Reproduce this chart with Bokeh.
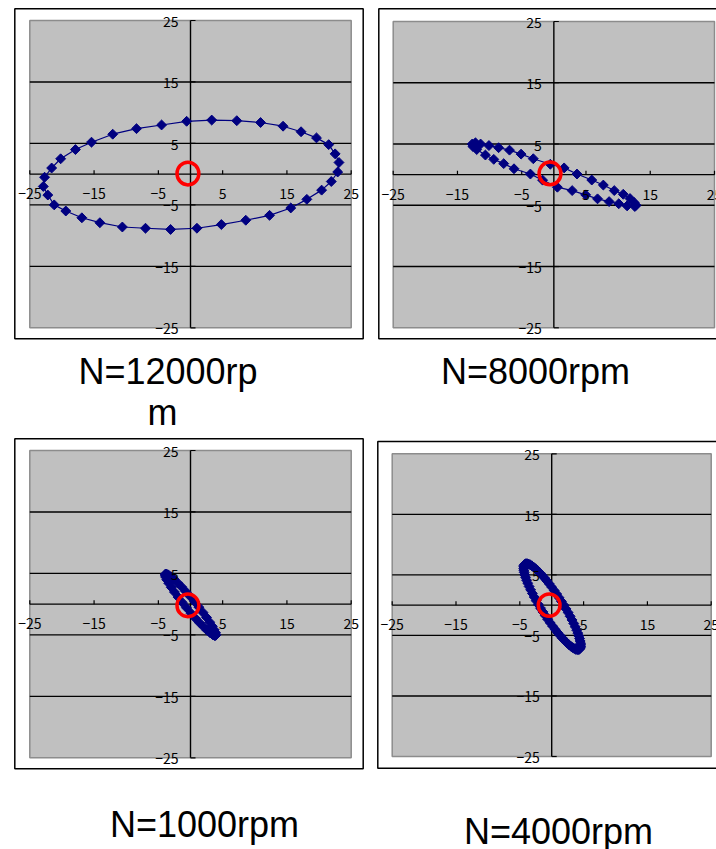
import numpy as np
from bokeh.plotting import figure
from bokeh.layouts import column, row
from bokeh.models import Range1d
from bokeh.core.properties import value
from bokeh.embed import file_html
from bokeh.resources import INLINE

# ---------------- data ----------------
tick_values = [-25, -15, -5, 5, 15, 25]
tick_labels = ["−25", "−15", "−5", "5", "15", "25"]
grid_values = [-15, -5, 5, 15]

# N = 12000 rpm
x_12000 = [-0.6, 3.3, 7.2, 10.9, 14.4, 17.2, 19.6, 21.5, 22.5, 23.1, 22.9, 21.9,
           20.4, 18.1, 15.6, 12.3, 8.6, 4.8, 1.0, -3.1, -7.0, -10.6, -14.1, -16.9,
           -19.4, -21.2, -22.2, -22.9, -22.7, -21.6, -20.2, -17.9, -15.4, -12.1, -8.4, -4.5]
y_12000 = [8.6, 8.8, 8.7, 8.4, 7.8, 6.9, 5.9, 4.8, 3.3, 1.9, 0.35, -1.2,
           -2.6, -4.1, -5.5, -6.7, -7.5, -8.2, -8.8, -9.0, -8.8, -8.6, -7.9, -7.1,
           -6.0, -5.0, -3.4, -2.0, -0.5, 1.0, 2.5, 4.0, 5.2, 6.5, 7.4, 8.0]

# N = 8000 rpm
x_8000 = [-12.7, -12.2, -11.4, -10.1, -8.6, -6.9, -5.1, -3.2, -0.55, 1.6, 3.6, 5.9,
          7.7, 9.4, 10.8, 11.85, 12.5, 12.8,
          12.6, 11.4, 10.1, 8.6, 6.8, 4.95, 2.85, 0.55, -1.75, -3.65, -6.2, -7.8,
          -9.35, -10.65, -12.0, -12.6]
y_8000 = [5.0, 5.2, 5.0, 4.75, 4.4, 4.0, 3.35, 2.6, 1.7, 1.1, 0.1, -0.88,
          -1.7, -2.6, -3.2, -3.9, -4.55, -5.0,
          -5.2, -5.1, -4.75, -4.4, -3.95, -3.3, -2.6, -2.05, -0.9, 0.1, 0.96, 1.8,
          2.5, 3.2, 4.1, 4.6]

# N = 1000 rpm
x_1000 = [3.90, 3.95, 3.88, 3.69, 3.39, 2.99, 2.50, 1.93, 1.30, 0.63, -0.06, -0.74,
          -1.40, -2.03, -2.58, -3.06, -3.45, -3.73, -3.90, -3.95, -3.88, -3.69, -3.39, -2.99,
          -2.50, -1.93, -1.30, -0.63, 0.06, 0.74, 1.40, 2.03, 2.58, 3.06, 3.45, 3.73]
y_1000 = [-5.10, -4.94, -4.63, -4.18, -3.61, -2.94, -2.17, -1.35, -0.49, 0.39, 1.26, 2.07,
          2.83, 3.49, 4.05, 4.48, 4.77, 4.91, 4.90, 4.74, 4.43, 3.98, 3.41, 2.74,
          1.97, 1.15, 0.29, -0.59, -1.46, -2.27, -3.03, -3.69, -4.25, -4.68, -4.97, -5.11]

# N = 4000 rpm
x_4000 = [4.30, 4.41, 4.49, 4.53, 4.54, 4.52, 4.46, 4.37, 4.25, 4.09, 3.91, 3.69,
          3.45, 3.18, 2.89, 2.58, 2.25, 1.90, 1.53, 1.16, 0.78, 0.39, 0.00, -0.39,
          -0.77, -1.15, -1.52, -1.88, -2.22, -2.54, -2.85, -3.13, -3.39, -3.62, -3.83, -4.00,
          -4.15, -4.26, -4.34, -4.38, -4.39, -4.37, -4.31, -4.22, -4.10, -3.94, -3.76, -3.54,
          -3.30, -3.03, -2.74, -2.43, -2.10, -1.75, -1.38, -1.01, -0.63, -0.24, 0.15, 0.54,
          0.92, 1.30, 1.67, 2.03, 2.37, 2.69, 3.00, 3.28, 3.54, 3.77, 3.98, 4.15]
y_4000 = [-7.30, -7.20, -7.04, -6.83, -6.58, -6.27, -5.92, -5.52, -5.09, -4.62, -4.12, -3.58,
          -3.02, -2.44, -1.84, -1.23, -0.62, 0.01, 0.62, 1.23, 1.84, 2.42, 2.98, 3.52,
          4.03, 4.51, 4.95, 5.35, 5.71, 6.03, 6.29, 6.51, 6.68, 6.79, 6.85, 6.85,
          6.80, 6.70, 6.54, 6.33, 6.08, 5.77, 5.42, 5.02, 4.59, 4.12, 3.62, 3.08,
          2.52, 1.94, 1.34, 0.73, 0.12, -0.51, -1.12, -1.73, -2.34, -2.92, -3.48, -4.02,
          -4.53, -5.01, -5.45, -5.85, -6.21, -6.53, -6.79, -7.01, -7.18, -7.29, -7.35, -7.35]

# red reference circle centre for each panel
circle_x = [-0.4, -0.6, -0.4, -0.4]
circle_y = [0.1, 0.2, -0.2, 0.0]

titles = [["N=12000rp", "m"], ["N=8000rpm"], ["N=1000rpm"], ["N=4000rpm"]]

# ---------------- layout (window pixels) ----------------
geoms = [
    dict(fig=(0, 0, 370, 434), gray=(29.3, 350.7, 20.0, 327.3), box=(14.3, 362.7, 8.3, 338.3),
         title_pos=[(167.5, 371), (162, 412)]),
    dict(fig=(370, 0, 346, 434), gray=(392.7, 714.0, 21.0, 327.3), box=(378.3, 730, 8.3, 338.3),
         title_pos=[(535, 371)]),
    dict(fig=(0, 434, 370, 415), gray=(29.3, 350.7, 450.0, 757.3), box=(14.3, 362.7, 438.3, 768.3),
         title_pos=[(204, 824)]),
    dict(fig=(370, 434, 346, 415), gray=(391.7, 710.7, 453.3, 756.0), box=(377.3, 730, 441.0, 767.7),
         title_pos=[(558, 831)]),
]

series = [(x_12000, y_12000), (x_8000, y_8000), (x_1000, y_1000), (x_4000, y_4000)]

NAVY = "#000080"
TICK_FONT = value("Noto Sans CJK JP")
TITLE_FONT = value("Liberation Sans")


def make_panel(xs, ys, cx, cy, title_lines, g):
    fl, ft, fw, fh = g["fig"]
    gx0, gx1, gy0, gy1 = g["gray"]
    sx = (gx1 - gx0) / 50.0
    sy = (gy1 - gy0) / 50.0

    def X(px):
        return -25 + (px - gx0) / sx

    def Y(py):
        return 25 - (py - gy0) / sy

    p = figure(width=fw, height=fh,
               x_range=Range1d(X(fl), X(fl + fw)),
               y_range=Range1d(Y(ft + fh), Y(ft)),
               x_axis_location=None, y_axis_location=None,
               toolbar_location=None, output_backend="svg",
               min_border=0, outline_line_color=None,
               background_fill_color="white", border_fill_color="white")
    p.xgrid.visible = False
    p.ygrid.visible = False

    bx0, bx1, by0, by1 = g["box"]
    # outer chart box
    p.quad(left=[X(bx0)], right=[X(bx1)], top=[Y(by0)], bottom=[Y(by1)],
           fill_color=None, line_color="black", line_width=1.5)
    # plot area
    p.quad(left=[-25], right=[25], bottom=[-25], top=[25],
           fill_color="#C0C0C0", line_color="#8C8C8C", line_width=1.5)
    # horizontal grid lines
    n = len(grid_values)
    p.segment(x0=[-25] * n, x1=[25] * n, y0=grid_values, y1=grid_values,
              line_color="black", line_width=1.4)
    # axes crossing at zero
    p.segment(x0=[-25, 0], y0=[0, -25], x1=[25, 0], y1=[0, 25],
              line_color="black", line_width=1.4)
    # tick marks
    m = len(tick_values)
    p.segment(x0=tick_values, y0=[0] * m, x1=tick_values, y1=[4 / sy] * m,
              line_color="black", line_width=1.2)
    p.segment(x0=[0] * m, y0=tick_values, x1=[5 / sx] * m, y1=tick_values,
              line_color="black", line_width=1.2)

    # orbit
    p.line(list(xs) + [xs[0]], list(ys) + [ys[0]], line_color=NAVY, line_width=1.2)
    p.scatter(xs, ys, marker="square", angle=np.pi / 4, size=7,
              fill_color=NAVY, line_color=NAVY)

    # red circle
    p.ellipse(x=[cx], y=[cy], width=3.4, height=3.7, fill_color=None,
              line_color="#FF0000", line_width=3.5)

    # tick labels
    p.text(x=tick_values, y=[0] * m, text=tick_labels, text_align="center",
           text_baseline="middle", y_offset=19.5, text_font=TICK_FONT,
           text_font_size="14px", text_color="black")
    p.text(x=[0] * m, y=tick_values, text=tick_labels, text_align="right",
           text_baseline="middle", x_offset=-12, y_offset=1, text_font=TICK_FONT,
           text_font_size="14px", text_color="black")

    # titles
    for line, (px, py) in zip(title_lines, g["title_pos"]):
        p.text(x=[X(px)], y=[Y(py)], text=[line], text_align="center",
               text_baseline="alphabetic", text_font=TITLE_FONT,
               text_font_size="36px", text_color="black")
    return p


panels = [make_panel(series[i][0], series[i][1], circle_x[i], circle_y[i], titles[i], geoms[i])
          for i in range(4)]

layout = column(row(panels[0], panels[1], spacing=0),
                row(panels[2], panels[3], spacing=0), spacing=0)

open("out.html", "w").write(file_html(layout, INLINE))
